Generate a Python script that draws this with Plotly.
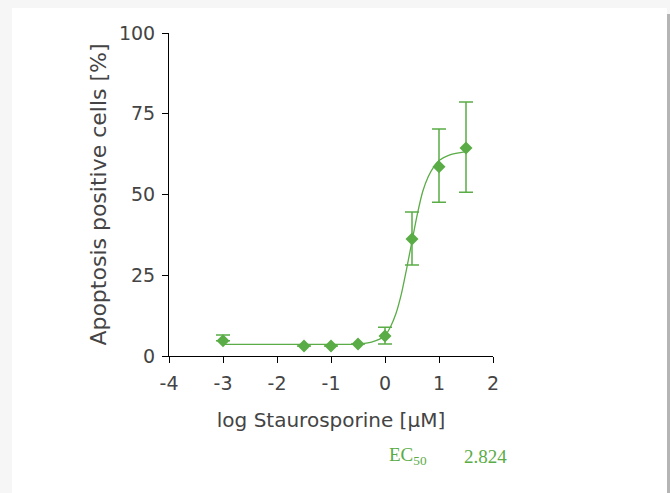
import plotly.graph_objects as go

# Measured data (log µM, % apoptosis positive cells)
log_conc = [-3, -1.5, -1, -0.5, 0, 0.5, 1, 1.5]
mean_pct = [4.7, 3.1, 3.1, 3.7, 6.2, 36.2, 58.6, 64.4]
err_plus = [1.8, None, None, None, 2.7, 8.4, 11.7, 14.2]
err_minus = [0, None, None, None, 2.5, 8.0, 11.0, 13.7]

# Fitted curve
curve_x = [-3, -2, -1, -0.5, -0.25, 0, 0.1, 0.2, 0.3, 0.4, 0.5, 0.6, 0.7, 0.8, 0.9, 1.0, 1.2, 1.5]
curve_y = [3.6, 3.6, 3.6, 3.7, 4.3, 6.3, 9.0, 13.0, 19.0, 27.0, 35.5, 44.0, 51.0, 55.5, 58.5, 60.5, 62.3, 63.3]

x_ticks = [-4, -3, -2, -1, 0, 1, 2]
y_ticks = [0, 25, 50, 75, 100]
ec50_label = "2.824"

GREEN = "#5aac46"
W, H = 670, 493
L, R, T, B = 169, 177, 33, 137
pw, ph = W - L - R, H - T - B

def px(x):
    return (x - L) / pw

def py(y):
    return (H - B - y) / ph

fig = go.Figure()

fig.add_trace(go.Scatter(
    x=curve_x, y=curve_y, mode="lines",
    line=dict(color=GREEN, width=1.3, shape="spline", smoothing=0.8),
    hoverinfo="skip", showlegend=False,
))

fig.add_trace(go.Scatter(
    x=log_conc, y=mean_pct, mode="markers",
    marker=dict(symbol="diamond", size=10, color=GREEN, line=dict(width=0)),
    error_y=dict(type="data", symmetric=False, array=err_plus, arrayminus=err_minus,
                 color=GREEN, thickness=1.5, width=7),
    showlegend=False,
))

tick_font = dict(family="DejaVu Sans, Verdana, sans-serif", size=19, color="#444444")
xtitle_font = dict(family="DejaVu Sans, Verdana, sans-serif", size=20, color="#444444")
ytitle_font = dict(family="DejaVu Sans, Verdana, sans-serif", size=22, color="#444444")

fig.update_layout(
    width=W, height=H,
    margin=dict(l=L, r=R, t=T, b=B, pad=0),
    paper_bgcolor="#f6f6f6",
    plot_bgcolor="rgba(0,0,0,0)",
    showlegend=False,
    xaxis=dict(
        range=[-4, 2], tickvals=x_ticks, ticktext=[str(v) for v in x_ticks],
        showgrid=False, zeroline=False, showline=True, linecolor="black", linewidth=1,
        ticks="outside", ticklen=6, tickcolor="black", tickwidth=1,
        tickfont=tick_font, ticklabelstandoff=4,
        title=dict(text="log Staurosporine [µM]", font=xtitle_font, standoff=20),
    ),
    yaxis=dict(
        range=[0, 100], tickvals=y_ticks, ticktext=[str(v) for v in y_ticks],
        showgrid=False, zeroline=False, showline=True, linecolor="black", linewidth=1,
        ticks="outside", ticklen=6, tickcolor="black", tickwidth=1,
        tickfont=tick_font, ticklabelstandoff=3,
        title=dict(text="Apoptosis positive cells [%]", font=ytitle_font, standoff=6),
    ),
    shapes=[
        # white card
        dict(type="rect", xref="paper", yref="paper", layer="below",
             x0=px(12), x1=px(667), y0=py(H + 5), y1=py(8),
             fillcolor="white", line=dict(width=0)),
        # right edge shadow line
        dict(type="rect", xref="paper", yref="paper", layer="below",
             x0=px(667), x1=px(670), y0=py(H + 5), y1=py(14),
             fillcolor="#b5b5b5", line=dict(width=0)),
    ],
    annotations=[
        dict(text="EC<sub>50</sub>", xref="paper", yref="paper",
             x=px(387), y=py(456), xanchor="left", yanchor="middle", showarrow=False,
             font=dict(family="Liberation Serif, Times New Roman, serif", size=19, color=GREEN)),
        dict(text=ec50_label, xref="paper", yref="paper",
             x=px(462), y=py(456), xanchor="left", yanchor="middle", showarrow=False,
             font=dict(family="Liberation Serif, Times New Roman, serif", size=19, color=GREEN)),
    ],
)

fig.write_html("out.html", config={"displayModeBar": False},
               post_script="document.body.style.margin='0';")
